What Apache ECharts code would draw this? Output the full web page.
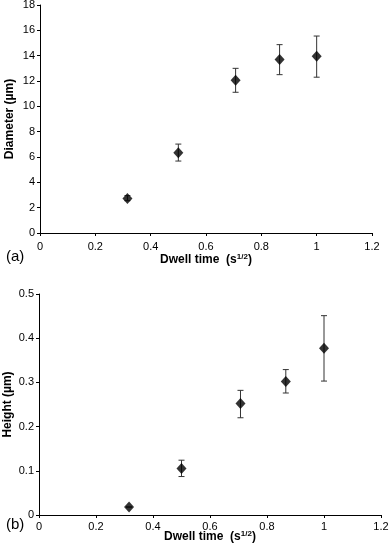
<!DOCTYPE html>
<html><head><meta charset="utf-8">
<script src="https://cdn.jsdelivr.net/npm/echarts@6/dist/echarts.min.js"></script>
<style>html,body{margin:0;padding:0;background:#fff}#c{width:389px;height:552px}</style>
</head><body><div id="c"></div>
<script>
var dwell = [0.316, 0.5, 0.707, 0.866, 1.0];
var diameter = [2.73, 6.33, 12.06, 13.69, 13.95];
var diameterLow = [2.55, 5.68, 11.11, 12.5, 12.3];
var diameterHigh = [2.95, 7.02, 13.0, 14.87, 15.55];
var height = [0.018, 0.105, 0.252, 0.302, 0.377];
var heightLow = [0.018, 0.087, 0.220, 0.276, 0.303];
var heightHigh = [0.018, 0.124, 0.282, 0.329, 0.451];

var chart = echarts.init(document.getElementById('c'), null, {renderer: 'canvas'});
var fontFam = '"Liberation Sans", Arial, sans-serif';

function errData(x, lo, hi) {
  return x.map(function (v, i) { return [v, lo[i], hi[i]]; });
}
function errSeries(xi, yi, data) {
  return {
    type: 'custom', xAxisIndex: xi, yAxisIndex: yi, data: data, z: 1,
    renderItem: function (params, api) {
      var x = api.value(0);
      var lo = api.coord([x, api.value(1)]);
      var hi = api.coord([x, api.value(2)]);
      var w = 3;
      var st = {stroke: '#333', lineWidth: 1};
      return {type: 'group', children: [
        {type: 'line', shape: {x1: lo[0], y1: lo[1], x2: hi[0], y2: hi[1]}, style: st},
        {type: 'line', shape: {x1: lo[0] - w, y1: lo[1], x2: lo[0] + w, y2: lo[1]}, style: st},
        {type: 'line', shape: {x1: hi[0] - w, y1: hi[1], x2: hi[0] + w, y2: hi[1]}, style: st}
      ]};
    }
  };
}
function pts(x, y) { return x.map(function (v, i) { return [v, y[i]]; }); }

function xAxisFor(grid, gap, margin) {
  return {
    gridIndex: grid,
    type: 'value', min: 0, max: 1.2, interval: 0.2,
    axisLine: {show: true, onZero: false, lineStyle: {color: '#000', width: 1}},
    axisTick: {show: true, inside: false, length: 3, lineStyle: {color: '#000'}},
    splitLine: {show: false},
    axisLabel: {color: '#000', fontSize: 11, fontFamily: fontFam, margin: margin,
      formatter: function (v) { return String(Math.round(v * 10) / 10); }},
    name: 'Dwell time  (s{sup|1/2})',
    nameLocation: 'middle',
    nameGap: gap,
    nameMoveOverlap: false,
    nameTextStyle: {color: '#000', fontSize: 12, fontWeight: 'bold', fontFamily: fontFam,
      rich: {sup: {fontSize: 8, fontWeight: 'bold', verticalAlign: 'top', padding: [0, 0, 6, 0], fontFamily: fontFam}}}
  };
}

var option = {
  animation: false,
  backgroundColor: '#fff',
  grid: [
    {left: 40, right: 17, top: 5, bottom: 319, containLabel: false, outerBoundsMode: 'none'},
    {left: 39, right: 8, top: 294, bottom: 37, containLabel: false, outerBoundsMode: 'none'}
  ],
  xAxis: [xAxisFor(0, 20, 8), xAxisFor(1, 15, 6)],
  yAxis: [
    {type: 'value', gridIndex: 0, min: 0, max: 18, interval: 2,
      axisLine: {show: true, lineStyle: {color: '#000'}},
      axisTick: {show: true, length: 3, lineStyle: {color: '#000'}},
      splitLine: {show: false},
      axisLabel: {color: '#000', fontSize: 11, fontFamily: fontFam, margin: 5},
      name: 'Diameter (µm)', nameLocation: 'middle', nameGap: 24, nameMoveOverlap: false,
      nameTextStyle: {color: '#000', fontSize: 12, fontWeight: 'bold', fontFamily: fontFam}},
    {type: 'value', gridIndex: 1, min: 0, max: 0.5, interval: 0.1,
      axisLine: {show: true, lineStyle: {color: '#000'}},
      axisTick: {show: true, length: 3, lineStyle: {color: '#000'}},
      splitLine: {show: false},
      axisLabel: {color: '#000', fontSize: 11, fontFamily: fontFam, margin: 5,
        formatter: function (v) { return String(Math.round(v * 10) / 10); }},
      name: 'Height (µm)', nameLocation: 'middle', nameGap: 25, nameMoveOverlap: false,
      nameTextStyle: {color: '#000', fontSize: 12, fontWeight: 'bold', fontFamily: fontFam}}
  ],
  graphic: [
    {type: 'text', left: 6, top: 249, style: {text: '(a)', fontSize: 15, fontFamily: fontFam, fill: '#000'}},
    {type: 'text', left: 6, top: 517, style: {text: '(b)', fontSize: 15, fontFamily: fontFam, fill: '#000'}}
  ],
  series: [
    errSeries(0, 0, errData(dwell, diameterLow, diameterHigh)),
    {type: 'scatter', xAxisIndex: 0, yAxisIndex: 0, data: pts(dwell, diameter),
      symbol: 'diamond', symbolSize: [10, 11], itemStyle: {color: '#000'}, z: 3},
    errSeries(1, 1, errData(dwell, heightLow, heightHigh)),
    {type: 'scatter', xAxisIndex: 1, yAxisIndex: 1, data: pts(dwell, height),
      symbol: 'diamond', symbolSize: [10, 11], itemStyle: {color: '#000'}, z: 3}
  ]
};
chart.setOption(option);
</script></body></html>
